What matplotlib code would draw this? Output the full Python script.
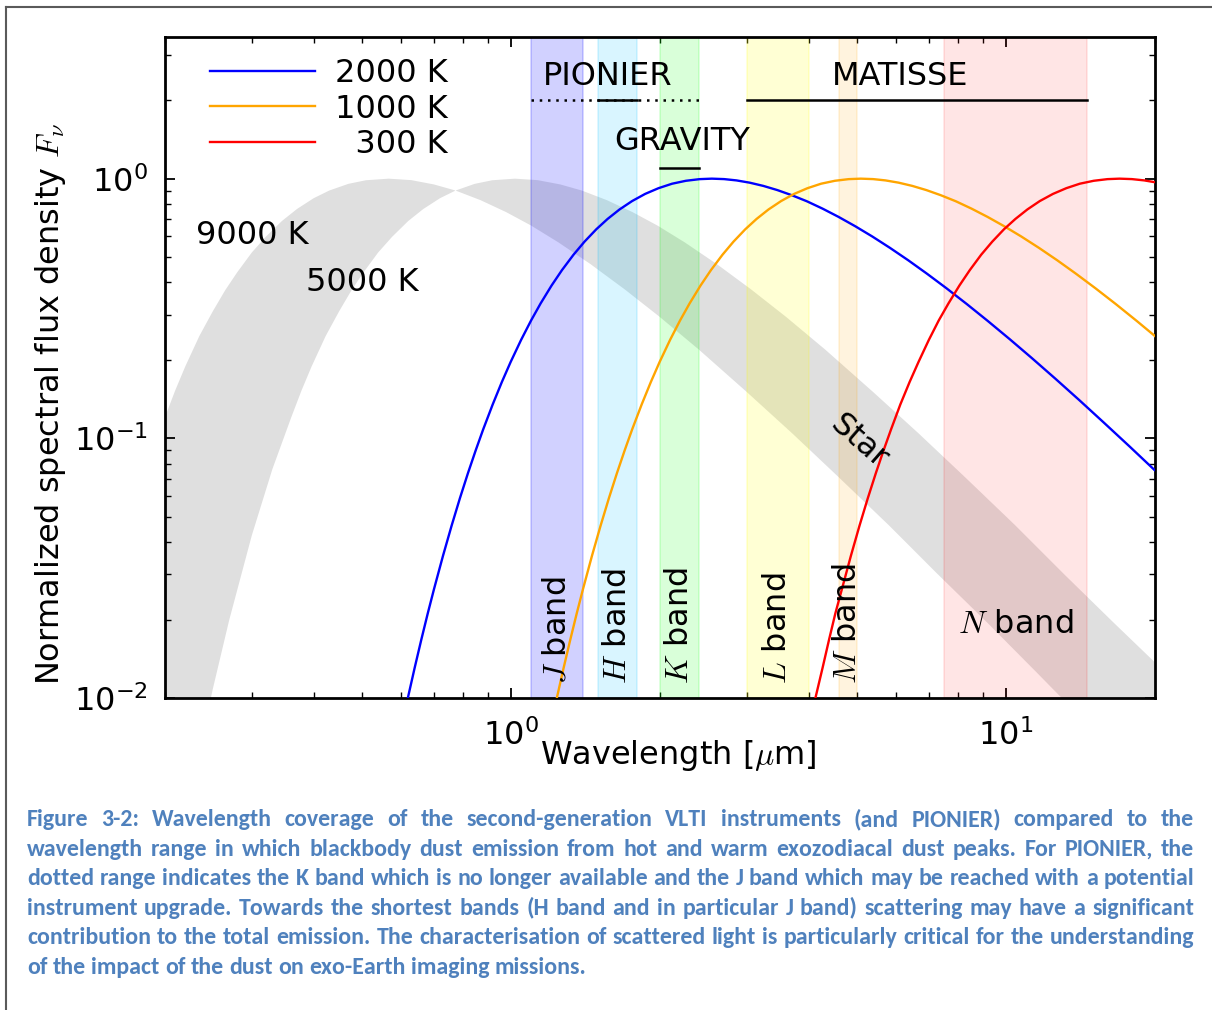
import numpy as np
import matplotlib
matplotlib.use("Agg")
import matplotlib.pyplot as plt
from matplotlib.lines import Line2D
from matplotlib import font_manager as fm

# ---------------- data ----------------
lam_2000 = [0.60, 0.62, 0.64, 0.66, 0.68, 0.70, 0.73, 0.76, 0.79, 0.82, 0.85, 0.88, 0.92,
            0.96, 1.00, 1.05, 1.10, 1.15, 1.21, 1.27, 1.34, 1.41, 1.49, 1.57, 1.66, 1.76,
            1.87, 1.99, 2.12, 2.26, 2.41, 2.55, 2.70, 2.86, 3.04, 3.24, 3.46, 3.70, 3.97,
            4.27, 4.60, 4.97, 5.38, 5.84, 6.36, 6.94, 7.60, 8.35, 9.20, 10.2, 11.3, 12.6,
            14.1, 15.8, 17.8, 20.0]
f_2000 = [0.00753, 0.01004, 0.01312, 0.01682, 0.0212, 0.02628, 0.03534, 0.04621, 0.05897,
          0.07357, 0.08999, 0.1083, 0.1352, 0.1649, 0.1969, 0.2396, 0.2847, 0.3312, 0.3880,
          0.4448, 0.5097, 0.5720, 0.6387, 0.6997, 0.7612, 0.8200, 0.8736, 0.9191, 0.9563,
          0.9813, 0.9958, 1.0, 0.9961, 0.9847, 0.9652, 0.9379, 0.9036, 0.8635, 0.8181,
          0.7665, 0.7124, 0.6559, 0.5990, 0.5417, 0.4851, 0.4306, 0.3784, 0.3292, 0.2837,
          0.2410, 0.2040, 0.1701, 0.1404, 0.1151, 0.09326, 0.07564]

lam_1000 = [1.20, 1.24, 1.28, 1.32, 1.36, 1.40, 1.46, 1.52, 1.58, 1.64, 1.70, 1.76, 1.84,
            1.92, 2.00, 2.10, 2.20, 2.30, 2.42, 2.54, 2.68, 2.82, 2.98, 3.14, 3.32, 3.52,
            3.74, 3.98, 4.24, 4.52, 4.82, 5.10, 5.40, 5.72, 6.08, 6.48, 6.92, 7.40, 7.94,
            8.54, 9.20, 9.94, 10.76, 11.68, 12.72, 13.88, 15.2, 16.7, 18.4, 20.4]
f_1000 = [0.00753, 0.01004, 0.01312, 0.01682, 0.0212, 0.02628, 0.03534, 0.04621, 0.05897,
          0.07357, 0.08999, 0.1083, 0.1352, 0.1649, 0.1969, 0.2396, 0.2847, 0.3312, 0.3880,
          0.4448, 0.5097, 0.5720, 0.6387, 0.6997, 0.7612, 0.8200, 0.8736, 0.9191, 0.9563,
          0.9813, 0.9958, 1.0, 0.9961, 0.9847, 0.9652, 0.9379, 0.9036, 0.8635, 0.8181,
          0.7665, 0.7124, 0.6559, 0.5990, 0.5417, 0.4851, 0.4306, 0.3784, 0.3292, 0.2837,
          0.2410]

lam_300 = [4.00, 4.13, 4.27, 4.40, 4.53, 4.67, 4.87, 5.07, 5.27, 5.47, 5.67, 5.87, 6.13,
           6.40, 6.67, 7.00, 7.33, 7.67, 8.07, 8.47, 8.93, 9.40, 9.93, 10.47, 11.07, 11.73,
           12.47, 13.27, 14.13, 15.07, 16.07, 17.00, 18.00, 19.07, 20.27]
f_300 = [0.00753, 0.01004, 0.01312, 0.01682, 0.0212, 0.02628, 0.03534, 0.04621, 0.05897,
         0.07357, 0.08999, 0.1083, 0.1352, 0.1649, 0.1969, 0.2396, 0.2847, 0.3312, 0.3880,
         0.4448, 0.5097, 0.5720, 0.6387, 0.6997, 0.7612, 0.8200, 0.8736, 0.9191, 0.9563,
         0.9813, 0.9958, 1.0, 0.9961, 0.9847, 0.9652]

lam_9000 = [0.20, 0.21, 0.22, 0.235, 0.25, 0.265, 0.28, 0.30, 0.32, 0.345, 0.37, 0.40,
            0.43, 0.47, 0.51, 0.567, 0.63, 0.70, 0.774, 0.87, 0.98, 1.10, 1.25, 1.45,
            1.7, 2.0, 2.4, 3.0, 3.7, 4.6, 5.8, 7.3, 9.2, 11.5, 14.5, 20.0]
f_9000 = [0.12, 0.153, 0.189, 0.248, 0.308, 0.372, 0.435, 0.52, 0.597, 0.687, 0.764, 0.841,
          0.90, 0.955, 0.986, 1.0, 0.987, 0.95, 0.90, 0.826, 0.743, 0.66, 0.568, 0.469,
          0.375, 0.294, 0.22, 0.151, 0.105, 0.071, 0.0465, 0.030, 0.0195, 0.0127, 0.0081,
          0.0043]

lam_5000 = [0.20, 0.22, 0.235, 0.25, 0.27, 0.30, 0.33, 0.36, 0.378, 0.396, 0.423, 0.45,
            0.477, 0.504, 0.54, 0.576, 0.621, 0.666, 0.72, 0.774, 0.846, 0.918, 1.02,
            1.134, 1.26, 1.393, 1.566, 1.764, 1.98, 2.25, 2.61, 3.06, 3.6, 4.32, 5.4,
            6.66, 8.28, 10.44, 13.14, 16.56, 20.0]
f_5000 = [0.0012, 0.0033, 0.0062, 0.0108, 0.020, 0.0424, 0.0761, 0.12, 0.153, 0.189,
          0.248, 0.308, 0.372, 0.435, 0.52, 0.597, 0.687, 0.764, 0.841, 0.90, 0.955,
          0.986, 1.0, 0.987, 0.95, 0.90, 0.826, 0.743, 0.66, 0.568, 0.469, 0.375, 0.294,
          0.22, 0.151, 0.105, 0.071, 0.0465, 0.030, 0.0195, 0.0138]

band_names = ["J", "H", "K", "L", "M", "N"]
band_lo = [1.10, 1.50, 2.00, 3.00, 4.60, 7.50]
band_hi = [1.40, 1.80, 2.40, 4.00, 5.00, 14.6]
band_colors = ["blue", "deepskyblue", "lime", "yellow", "orange", "red"]
band_alpha = [0.18, 0.15, 0.15, 0.17, 0.13, 0.10]

pionier_dotted = (1.10, 2.40)
pionier_solid = (1.50, 1.80)
gravity_range = (2.00, 2.40)
matisse_range = (3.00, 14.6)
inst_level_top = 2.0
inst_level_gravity = 1.10

caption_lines = [
    "Figure 3-2: Wavelength coverage of the second-generation VLTI instruments (and PIONIER) compared to the",
    "wavelength range in which blackbody dust emission from hot and warm exozodiacal dust peaks. For PIONIER, the",
    "dotted range indicates the K band which is no longer available and the J band which may be reached with a potential",
    "instrument upgrade. Towards the shortest bands (H band and in particular J band) scattering may have a significant",
    "contribution to the total emission. The characterisation of scattered light is particularly critical for the understanding",
    "of the impact of the dust on exo-Earth imaging missions.",
]

# ---------------- figure ----------------
plt.rcParams["font.family"] = ["DejaVu Sans"]
plt.rcParams["mathtext.fontset"] = "cm"
plt.rcParams["axes.unicode_minus"] = False

W, H = 1212, 1010
FS = 23
fig = plt.figure(figsize=(W / 100, H / 100), dpi=100)
fig.patch.set_facecolor("white")
L, R, T, B = 164.7, 1154.5, 37.3, 698.3
ax = fig.add_axes([L / W, 1 - B / H, (R - L) / W, (B - T) / H])
ax.set_xscale("log")
ax.set_yscale("log")
ax.set_xlim(0.2, 20)
ax.set_ylim(0.01, 3.5)

# star band
ax.fill(np.concatenate([lam_9000, lam_5000[::-1]]),
        np.concatenate([f_9000, f_5000[::-1]]),
        color="0.5", alpha=0.25, lw=0, zorder=1)

# photometric bands
for lo, hi, c, a in zip(band_lo, band_hi, band_colors, band_alpha):
    ax.axvspan(lo, hi, color=c, alpha=a, lw=1.2, zorder=2)

# dust curves
ax.plot(lam_2000, f_2000, color="#0000ff", lw=1.7, label="2000 K", zorder=5)
ax.plot(lam_1000, f_1000, color="#ffa500", lw=1.7, label="1000 K", zorder=5)
ax.plot(lam_300, f_300, color="#ff0000", lw=1.7, label="\u2007300 K", zorder=5)

# instrument ranges
ax.plot(pionier_dotted, [inst_level_top] * 2, color="k", lw=1.8, ls=(0, (1, 2.3)), zorder=6)
ax.plot(pionier_solid, [inst_level_top] * 2, color="k", lw=1.8, zorder=6)
ax.plot(gravity_range, [inst_level_gravity] * 2, color="k", lw=1.8, zorder=6)
ax.plot(matisse_range, [inst_level_top] * 2, color="k", lw=1.8, zorder=6)
ax.text(1.571, 2.48, "PIONIER", fontsize=FS, ha="center", va="center", zorder=7)
ax.text(2.225, 1.385, "GRAVITY", fontsize=FS, ha="center", va="center", zorder=7)
ax.text(6.11, 2.48, "MATISSE", fontsize=FS, ha="center", va="center", zorder=7)

# band labels
for name, lo, hi in zip(band_names[:-1], band_lo[:-1], band_hi[:-1]):
    ax.text(np.sqrt(lo * hi), 0.0114, f"${name}$ band", rotation=90, fontsize=FS,
            ha="center", va="bottom", zorder=7)
ax.text(np.sqrt(band_lo[-1] * band_hi[-1]), 0.0192, f"${band_names[-1]}$ band",
        fontsize=FS, ha="center", va="center", zorder=7)

# star labels
ax.text(0.231, 0.602, "9000 K", fontsize=FS, ha="left", va="center", zorder=7)
ax.text(0.386, 0.398, "5000 K", fontsize=FS, ha="left", va="center", zorder=7)
ax.text(5.05, 0.0965, "Star", fontsize=FS, rotation=-41, ha="center", va="center",
        rotation_mode="anchor", zorder=7)

# axes styling
for s in ax.spines.values():
    s.set_linewidth(2.0)
ax.tick_params(which="both", direction="in", top=True, right=True)
ax.tick_params(which="major", length=7.5, width=1.3, labelsize=FS)
ax.tick_params(axis="x", which="major", pad=15)
ax.tick_params(axis="y", which="major", pad=12)
ax.tick_params(which="minor", length=4.3, width=1.0)

ax.set_xlabel("Wavelength [$\\mu$m]", fontsize=FS)
ax.set_ylabel("Normalized spectral flux density $F_\\nu$", fontsize=FS)
ax.xaxis.label.set_va("center")
ax.yaxis.label.set_va("center")
ax.xaxis.set_label_coords(0.5187, -0.0863)
ax.yaxis.set_label_coords((51 - L) / (R - L), (B - 404) / (B - T))

leg = ax.legend(loc="upper left", bbox_to_anchor=(0.0455, 0.969), frameon=False,
                fontsize=FS, handlelength=3.3, handletextpad=0.62, labelspacing=0.15,
                borderpad=0, borderaxespad=0)
leg.set_zorder(8)

# page frame
fig.add_artist(Line2D([6 / W, 6 / W], [0, 1 - 7 / H], color="#5a5a5a", lw=1.5,
                      transform=fig.transFigure))
fig.add_artist(Line2D([6 / W, 1], [1 - 7 / H, 1 - 7 / H], color="#5a5a5a", lw=1.5,
                      transform=fig.transFigure))

# ---------------- caption (justified) ----------------
names = {f.name for f in fm.fontManager.ttflist}
capfont = "Carlito" if "Carlito" in names else "Lato"
cap_color = "#4f81bd"
x0, x1 = 27, 1194
baselines = [826, 855.6, 885.2, 914.8, 944.4, 974.0]
renderer = fig.canvas.get_renderer()


def text_w(s, size):
    t = fig.text(0, 0, s, fontsize=size, family=capfont, weight="bold")
    w = t.get_window_extent(renderer=renderer).width
    t.remove()
    return w


def natural(line, size):
    ws = line.split()
    sp = text_w("n n", size) - text_w("nn", size)
    return sum(text_w(w_, size) for w_ in ws) + sp * (len(ws) - 1)


base = 15.0
mx = max(natural(l, base) for l in caption_lines)
cap_size = min(20.0, base * 0.995 * (x1 - x0) / mx)
space_w = text_w("n n", cap_size) - text_w("nn", cap_size)

for i, (line, yb) in enumerate(zip(caption_lines, baselines)):
    words = line.split()
    widths = [text_w(w_, cap_size) for w_ in words]
    if i < len(caption_lines) - 1:
        gap = (x1 - x0 - sum(widths)) / (len(words) - 1)
    else:
        gap = space_w
    x = x0
    for w_, wd in zip(words, widths):
        fig.text(x / W, 1 - yb / H, w_, fontsize=cap_size, family=capfont,
                 weight="bold", color=cap_color, ha="left", va="baseline")
        x += wd + gap

fig.savefig("out.png", dpi=100, facecolor="white")
